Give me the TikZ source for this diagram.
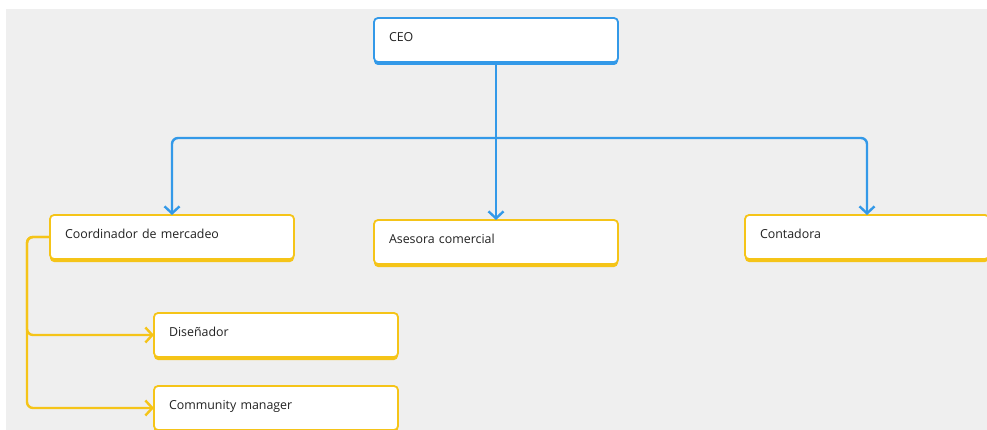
\documentclass[tikz,border=0pt]{standalone}
\usepackage{fontspec}
\setmainfont{Open Sans}
\usetikzlibrary{arrows.meta}
\definecolor{bgc}{HTML}{EFEFEF}
\definecolor{bluec}{HTML}{3399E8}
\definecolor{yelc}{HTML}{F5C418}
\definecolor{txtc}{HTML}{222222}
\tikzset{
  box/.style={draw=#1, fill=white, rounded corners=4pt, line width=1.8pt,
    preaction={fill=#1, transform canvas={yshift=-3pt}},
    minimum width=244pt, minimum height=44pt, text width=214pt,
    inner xsep=15pt, inner ysep=0pt, text height=9pt, text depth=5.5pt, outer sep=0pt,
    align=left, anchor=north west, text=txtc, font=\fontsize{12.4}{15}\selectfont},
  bline/.style={draw=bluec, line width=2.4pt, rounded corners=6pt,
    -{Straight Barb[length=7pt,width=15pt,line width=2.4pt]}},
  bplain/.style={draw=bluec, line width=2.4pt},
  yline/.style={draw=yelc, line width=2.4pt, rounded corners=6pt,
    -{Straight Barb[length=7pt,width=15pt,line width=2.4pt]}}
}
\begin{document}
\begin{tikzpicture}[x=1pt,y=-1pt]
\useasboundingbox (0,0) rectangle (987,430);
\fill[bgc] (6,9) rectangle (987,430);
\node[box=bluec] (ceo) at (374,18) {CEO};
\node[box=yelc] (coord) at (50,215) {Coordinador de mercadeo};
\node[box=yelc] (ases) at (374,220) {Asesora comercial};
\node[box=yelc] (cont) at (745,215) {Contadora};
\node[box=yelc] (dis) at (154,313) {Diseñador};
\node[box=yelc] (comm) at (154,386) {Community manager};
\coordinate (j) at (496,138);
\coordinate (yl) at (27,237);
\draw[bplain] (ceo.south) -- (j);
\draw[bline] (j) -| (coord.north);
\draw[bline] (j) -- (ases.north);
\draw[bline] (j) -| (cont.north);
\draw[yline] (coord.west) -- (yl) |- (dis.west);
\draw[yline] (coord.west) -- (yl) |- (comm.west);
\end{tikzpicture}
\end{document}
